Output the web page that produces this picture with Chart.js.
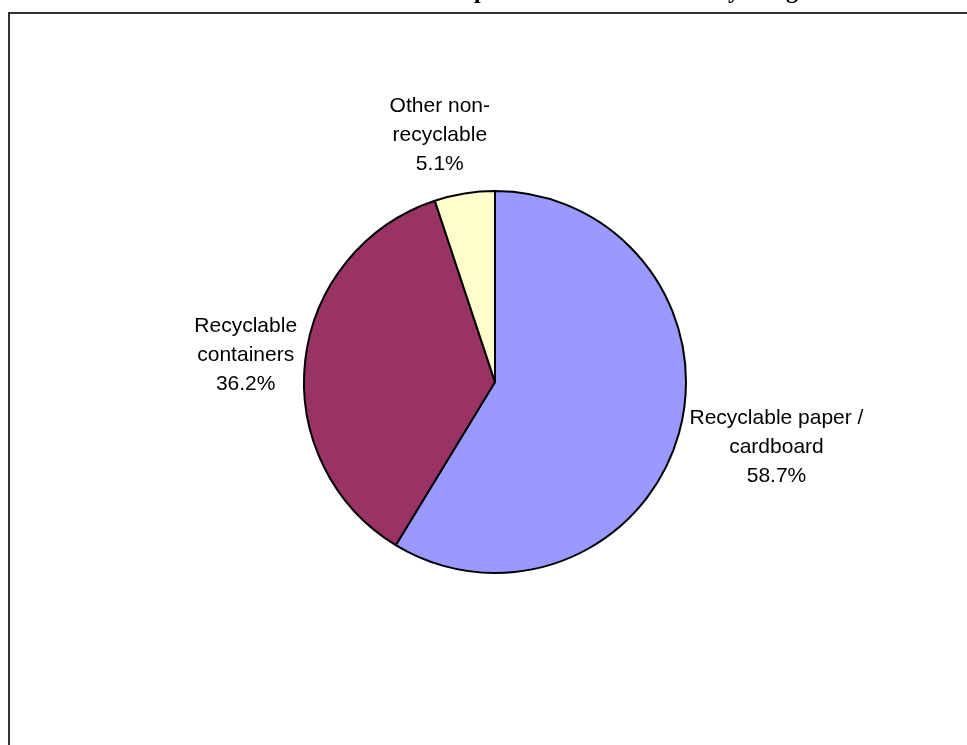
<!DOCTYPE html>
<html>
<head>
<meta charset="utf-8">
<title>Composition of Total Waste by Weight</title>
<script src="https://cdn.jsdelivr.net/npm/chart.js@4/dist/chart.umd.min.js"></script>
<style>
  html, body { margin: 0; padding: 0; background: #ffffff; overflow: hidden; }
  #wrap { position: absolute; left: 0; top: 0; width: 967px; height: 745px; }
</style>
</head>
<body>
<div id="wrap"><canvas id="chart" width="967" height="745"></canvas></div>
<script>
// Waste stream shares, in percent of total weight
const categories = [
  ["Recyclable paper /", "cardboard"],
  ["Recyclable", "containers"],
  ["Other non-", "recyclable"]
];
const shares = [58.7, 36.2, 5.1];
const sliceColors = ["#9999FF", "#993366", "#FFFFCC"];
const chartTitle = "Composition of Total Waste by Weight";

// Outer frame plus the (partly clipped) chart title
const framePlugin = {
  id: "frameTitle",
  beforeDraw(chart, args, opts) {
    const ctx = chart.ctx;
    ctx.save();
    ctx.strokeStyle = opts.color;
    ctx.lineWidth = opts.width;
    ctx.strokeRect(opts.left, opts.top, 3000, 3000);
    ctx.font = opts.titleFont;
    ctx.fillStyle = "#000000";
    ctx.textAlign = "center";
    ctx.textBaseline = "alphabetic";
    ctx.fillText(opts.text, opts.titleX, opts.titleY);
    ctx.restore();
  }
};

// Category name + percentage placed just outside each slice
const outsideLabels = {
  id: "outsideLabels",
  afterDatasetsDraw(chart, args, opts) {
    const ctx = chart.ctx;
    const meta = chart.getDatasetMeta(0);
    const data = chart.data.datasets[0].data;
    ctx.save();
    ctx.font = opts.font;
    ctx.fillStyle = opts.color;
    ctx.textAlign = "center";
    ctx.textBaseline = "middle";
    meta.data.forEach((arc, i) => {
      const p = arc.getProps(["x", "y", "startAngle", "endAngle", "outerRadius"], true);
      const mid = (p.startAngle + p.endAngle) / 2;
      const c = Math.cos(mid), s = Math.sin(mid);
      const lines = [].concat(chart.data.labels[i], data[i].toFixed(1) + "%");
      const bw = Math.max(...lines.map(t => ctx.measureText(t).width));
      const bh = lines.length * opts.lineHeight;
      const d = p.outerRadius + opts.gap + (bw / 2) * Math.abs(c) + (bh / 2) * Math.abs(s);
      const nudge = opts.nudge[i] || [0, 0];
      const cx = p.x + d * c + nudge[0];
      const cy = p.y + d * s + nudge[1];
      lines.forEach((t, k) => {
        ctx.fillText(t, cx, cy + (k - (lines.length - 1) / 2) * opts.lineHeight);
      });
    });
    ctx.restore();
  }
};

new Chart(document.getElementById("chart"), {
  type: "pie",
  data: {
    labels: categories,
    datasets: [{
      data: shares,
      backgroundColor: sliceColors,
      borderColor: "#000000",
      borderWidth: 2
    }]
  },
  options: {
    responsive: false,
    animation: false,
    events: [],
    layout: { padding: { left: 303, top: 190, right: 280, bottom: 171 } },
    plugins: {
      legend: { display: false },
      title: { display: false },
      tooltip: { enabled: false },
      frameTitle: {
        color: "#333333",
        width: 2,
        left: 9,
        top: 13,
        text: chartTitle,
        titleFont: "bold 24px 'Liberation Serif'",
        titleX: 622,
        titleY: -2
      },
      outsideLabels: {
        font: "21px 'Liberation Sans'",
        color: "#000000",
        lineHeight: 29,
        gap: 10,
        nudge: [[-4, -15], [6, 2], [-15, 2]]
      }
    }
  },
  plugins: [framePlugin, outsideLabels]
});
</script>
</body>
</html>
